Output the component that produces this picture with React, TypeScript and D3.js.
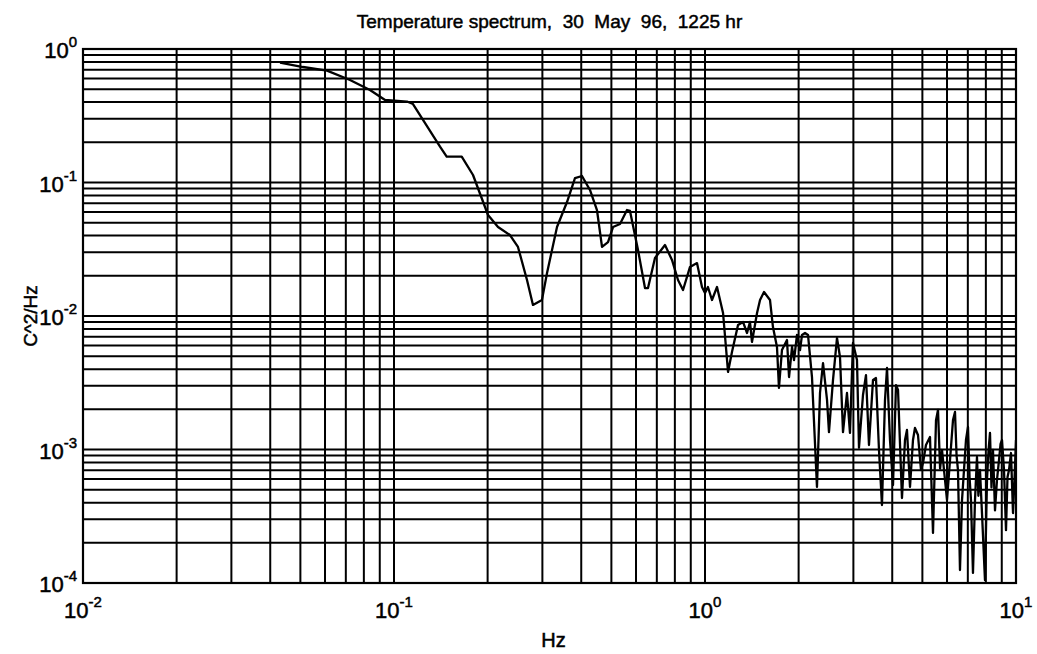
import React from "react";
import * as d3 from "d3";

const freqHz = [
  0.043, 0.051, 0.0609, 0.0722, 0.0837, 0.0936, 0.1101, 0.1151, 0.1406, 0.1477,
  0.1651, 0.1795, 0.2006, 0.216, 0.236, 0.2504, 0.2677, 0.2798, 0.2991, 0.3105,
  0.3343, 0.36, 0.3819, 0.4022, 0.4267, 0.4494, 0.4665, 0.4877, 0.5061, 0.533,
  0.5613, 0.5739, 0.609, 0.6413, 0.6557, 0.6905, 0.7437, 0.7832, 0.8188, 0.8498,
  0.895, 0.9425, 0.978, 1.0, 1.022, 1.053, 1.093, 1.143, 1.186, 1.221,
  1.277, 1.325, 1.365, 1.395, 1.416, 1.47, 1.503, 1.548, 1.618, 1.654,
  1.704, 1.729, 1.768, 1.835, 1.863, 1.905, 1.933, 1.976, 2.021, 2.051,
  2.097, 2.144, 2.208, 2.291, 2.343, 2.396, 2.468, 2.504, 2.58, 2.657,
  2.717, 2.778, 2.861, 2.925, 2.991, 3.081, 3.127, 3.221, 3.293, 3.367,
  3.469, 3.546, 3.626, 3.707, 3.791, 3.848, 3.934, 4.023, 4.113, 4.175,
  4.299, 4.396, 4.461, 4.562, 4.664, 4.733, 4.84, 4.949, 5.023, 5.135,
  5.29, 5.409, 5.531, 5.613, 5.7, 5.783, 5.912, 6.0, 6.135, 6.272, 6.366,
  6.44, 6.508, 6.605, 6.705, 6.804, 6.905, 7.009, 7.09, 7.166, 7.272, 7.382, 7.491,
  7.57, 7.659, 7.774, 7.948, 8.067, 8.16, 8.249, 8.34, 8.433, 8.56, 8.687, 8.817,
  8.92, 9.016, 9.15, 9.286, 9.39, 9.495, 9.636, 9.781, 9.89, 10.0,
];

const psd = [
  0.789, 0.733, 0.688, 0.586, 0.493, 0.415, 0.404, 0.387, 0.1854, 0.1561,
  0.1561, 0.1138, 0.0571, 0.0464, 0.0404, 0.0329, 0.0186, 0.0121, 0.0132, 0.021,
  0.0464, 0.0714, 0.108, 0.1119, 0.0879, 0.0622, 0.0329, 0.0358, 0.0464, 0.0489,
  0.0622, 0.0612, 0.0312, 0.0162, 0.0162, 0.0272, 0.034, 0.0263, 0.0186, 0.01566,
  0.0233, 0.0249, 0.0165, 0.01487, 0.0165, 0.01318, 0.0165, 0.01053, 0.00381, 0.00537,
  0.00856, 0.00902, 0.00746, 0.00902, 0.00639, 0.01053, 0.01318, 0.01513, 0.01318, 0.00827,
  0.00586, 0.00289, 0.00556, 0.00661, 0.00349, 0.00586, 0.00468, 0.00721, 0.00556, 0.00721,
  0.00746, 0.00721, 0.00349, 0.000524, 0.00265, 0.00444, 0.00235, 0.00135, 0.00332, 0.00684,
  0.00493, 0.00135, 0.00265, 0.00133, 0.00628, 0.00468, 0.00103, 0.00256, 0.00361, 0.00108,
  0.00332, 0.00343, 0.000991, 0.000384, 0.00235, 0.00408, 0.001178, 0.000542, 0.00304, 0.00279,
  0.000433, 0.001178, 0.0014, 0.000524, 0.001178, 0.00145, 0.001284, 0.000702, 0.000792, 0.00108,
  0.00124, 0.000237, 0.00166, 0.00198, 0.00072, 0.000991, 0.000591, 0.000418, 0.000834, 0.00166, 0.00191,
  0.0009, 0.000702, 0.000125, 0.000418, 0.000702, 0.001178, 0.001474, 0.00062, 0.000418, 0.000119, 0.000418, 0.000879,
  0.00045, 0.000702, 0.000334, 0.000105, 0.000591, 0.00098, 0.00133, 0.00052, 0.000991, 0.00035, 0.000591, 0.000834,
  0.0011, 0.001178, 0.000702, 0.000249, 0.00062, 0.000702, 0.000941, 0.000334, 0.0006, 0.001178,
];

const xDecadeExps = [-2, -1, 0, 1];
const yDecadeExps = [-4, -3, -2, -1, 0];

const titleText = "Temperature spectrum,  30  May  96,  1225 hr";
const xLabelText = "Hz";
const yLabelText = "C^2/Hz";

const W = 1037;
const H = 654;
const left = 83;
const right = 1016;
const top = 49;
const bottom = 583;
const FONT = "'Liberation Sans', Arial, sans-serif";

export default function App() {
  const x = d3.scaleLog().domain([1e-2, 10]).range([left, right]);
  const y = d3.scaleLog().domain([1e-4, 1]).range([bottom, top]);

  const xGrid = x.ticks();
  const yGrid = y.ticks();

  const pts: [number, number][] = freqHz.map((f, i) => [f, psd[i]]);
  const line = d3
    .line<[number, number]>()
    .x((d) => x(d[0]))
    .y((d) => y(d[1]));

  const textStyle = { stroke: "#000", strokeWidth: 0.5, fill: "#000" };

  return (
    <svg
      width={W}
      height={H}
      style={{ position: "absolute", left: 0, top: 0, background: "#fff" }}
      fontFamily={FONT}
    >
      <rect x={0} y={0} width={W} height={H} fill="#fff" />
      <defs>
        <clipPath id="plotClip">
          <rect x={left} y={top} width={right - left} height={bottom - top} />
        </clipPath>
      </defs>
      <g stroke="#000" strokeWidth={2}>
        {xGrid.map((v, i) => (
          <line key={"xg" + i} x1={x(v)} x2={x(v)} y1={top} y2={bottom} />
        ))}
        {yGrid.map((v, i) => (
          <line key={"yg" + i} x1={left} x2={right} y1={y(v)} y2={y(v)} />
        ))}
      </g>
      <rect
        x={left}
        y={top}
        width={right - left}
        height={bottom - top}
        fill="none"
        stroke="#000"
        strokeWidth={2.2}
      />
      <path
        d={line(pts) || ""}
        fill="none"
        stroke="#000"
        strokeWidth={2.3}
        strokeLinejoin="round"
        clipPath="url(#plotClip)"
      />
      {xDecadeExps.map((e) => (
        <text
          key={"xt" + e}
          x={x(Math.pow(10, e))}
          y={618}
          textAnchor="middle"
          fontSize={22}
          style={textStyle}
        >
          10
          <tspan dy={-11} fontSize={15}>
            {e}
          </tspan>
        </text>
      ))}
      {yDecadeExps.map((e) => (
        <text
          key={"yt" + e}
          x={77}
          y={y(Math.pow(10, e)) + 9}
          textAnchor="end"
          fontSize={22}
          style={textStyle}
        >
          10
          <tspan dy={-11} fontSize={15}>
            {e}
          </tspan>
        </text>
      ))}
      <text
        x={(left + right) / 2}
        y={28}
        textAnchor="middle"
        fontSize={19}
        style={{ ...textStyle, whiteSpace: "pre" }}
        xmlSpace="preserve"
      >
        {titleText}
      </text>
      <text x={(left + right) / 2 + 4} y={647} textAnchor="middle" fontSize={20} style={textStyle}>
        {xLabelText}
      </text>
      <text
        transform={`translate(37,${(top + bottom) / 2}) rotate(-90)`}
        textAnchor="middle"
        fontSize={19}
        style={textStyle}
      >
        {yLabelText}
      </text>
    </svg>
  );
}
